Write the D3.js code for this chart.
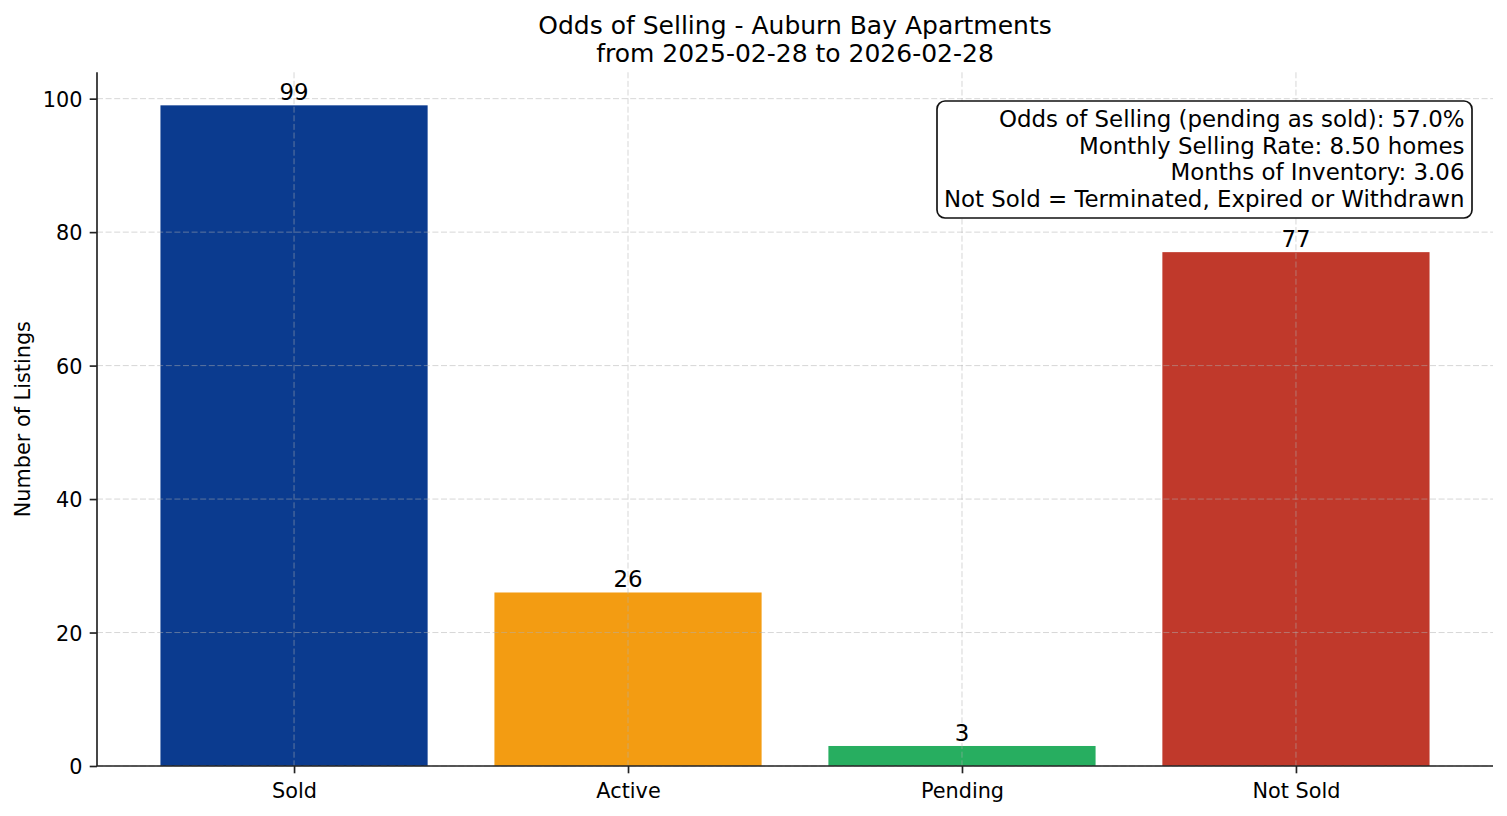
<!DOCTYPE html>
<html>
<head>
<meta charset="utf-8">
<script src="https://cdn.jsdelivr.net/npm/d3@7"></script>
<style>
html,body{margin:0;padding:0;background:#fff;}
svg{display:block;font-family:"DejaVu Sans",sans-serif;}
</style>
</head>
<body>
<svg id="chart" width="1507" height="816"></svg>
<script>
const categories = ["Sold", "Active", "Pending", "Not Sold"];
const counts = [99, 26, 3, 77];
const barColors = ["#0b3b8f", "#f39c12", "#27ae60", "#c0392b"];
const yTicks = [0, 20, 40, 60, 80, 100];
const titleLines = ["Odds of Selling - Auburn Bay Apartments", "from 2025-02-28 to 2026-02-28"];
const infoLines = [
  "Odds of Selling (pending as sold): 57.0%",
  "Monthly Selling Rate: 8.50 homes",
  "Months of Inventory: 3.06",
  "Not Sold = Terminated, Expired or Withdrawn"
];
const yLabel = "Number of Listings";

const svg = d3.select("#chart");
const L = 97, R = 1493, T = 72.3, B = 766;

const xIdx = d3.scaleLinear().domain([-0.59, categories.length - 1 + 0.59]).range([L, R]);
const y = d3.scaleLinear().domain([0, d3.max(counts) * 1.05]).range([B, T]);
const barW = xIdx(0.8) - xIdx(0);

// bars
svg.append("g").selectAll("rect").data(counts).join("rect")
  .attr("x", (d, i) => xIdx(i) - barW / 2)
  .attr("width", barW)
  .attr("y", d => y(d))
  .attr("height", d => y(0) - y(d))
  .attr("fill", (d, i) => barColors[i]);

// grid (above bars)
const grid = svg.append("g").attr("stroke", "#b0b0b0").attr("stroke-opacity", 0.5)
  .attr("stroke-width", 1).attr("stroke-dasharray", "6,2.6");
grid.selectAll(".gy").data(yTicks).join("line")
  .attr("x1", L).attr("x2", R).attr("y1", d => y(d)).attr("y2", d => y(d));
grid.selectAll(".gx").data(categories).join("line")
  .attr("y1", T).attr("y2", B).attr("x1", (d, i) => xIdx(i)).attr("x2", (d, i) => xIdx(i));

// axes
const yAxis = d3.axisLeft(y).tickValues(yTicks).tickSize(7.3).tickPadding(7.3);
const gy = svg.append("g").attr("transform", `translate(${L},0)`).call(yAxis);
gy.select(".domain").attr("d", `M0,${B}V${T}`);
const xAxis = d3.axisBottom(xIdx).tickValues(d3.range(categories.length))
  .tickFormat(i => categories[i]).tickSize(7.3).tickPadding(7.3);
const gx = svg.append("g").attr("transform", `translate(0,${B})`).call(xAxis);
gx.select(".domain").attr("d", `M${L},0H${R}`);
[gx, gy].forEach(g => {
  g.select(".domain").attr("stroke", "#222").attr("stroke-width", 1.67);
  g.selectAll(".tick line").attr("stroke", "#222").attr("stroke-width", 1.67);
  g.selectAll(".tick text").attr("fill", "#000").attr("font-size", 20.8)
    .attr("font-family", "DejaVu Sans");
});
gy.selectAll(".tick text").attr("dy", "0.36em");
gx.selectAll(".tick text").attr("dy", "0.86em");

// value labels
svg.append("g").selectAll("text").data(counts).join("text")
  .attr("x", (d, i) => xIdx(i)).attr("y", d => y(d) - 5.4)
  .attr("text-anchor", "middle").attr("font-size", 22.9).attr("fill", "#000")
  .text(d => d);

// y label
svg.append("text").attr("transform", `translate(30,${(T + B) / 2}) rotate(-90)`)
  .attr("text-anchor", "middle").attr("font-size", 20.8).attr("fill", "#000").text(yLabel);

// title
svg.append("g").selectAll("text").data(titleLines).join("text")
  .attr("x", (L + R) / 2).attr("y", (d, i) => 33.5 + i * 28)
  .attr("text-anchor", "middle").attr("font-size", 25).attr("fill", "#000").text(d => d);

// info box
const box = svg.append("g");
box.append("rect").attr("x", 937).attr("y", 101).attr("width", 535).attr("height", 117)
  .attr("rx", 8).attr("ry", 8).attr("fill", "#fff").attr("stroke", "#111").attr("stroke-width", 1.67);
box.selectAll("text").data(infoLines).join("text")
  .attr("x", 1464.5).attr("y", (d, i) => 127 + i * 26.7)
  .attr("text-anchor", "end").attr("font-size", 22.9).attr("fill", "#000").text(d => d);
</script>
</body>
</html>
